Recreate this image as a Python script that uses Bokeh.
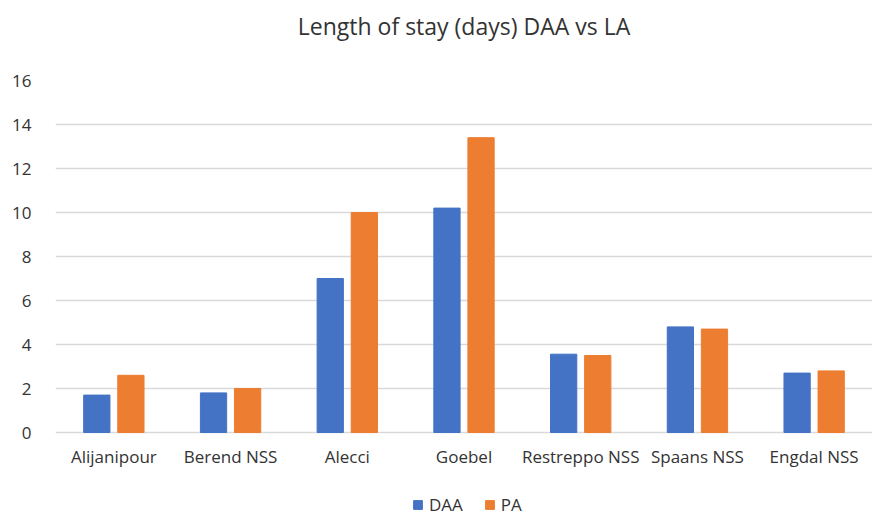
from bokeh.plotting import figure
from bokeh.models import ColumnDataSource, FactorRange, Range1d, Legend, LegendItem, Title
from bokeh.transform import dodge
from bokeh.core.properties import value
from bokeh.embed import file_html
from bokeh.resources import INLINE

categories = ["Alijanipour", "Berend NSS", "Alecci", "Goebel", "Restreppo NSS", "Spaans NSS", "Engdal NSS"]
daa = [1.7, 1.8, 7.0, 10.2, 3.56, 4.8, 2.7]
pa = [2.6, 2.0, 10.0, 13.4, 3.5, 4.7, 2.8]
y_ticks = [0, 2, 4, 6, 8, 10, 12, 14, 16]

FONT = "Open Sans"
TXT = "#333333"
source = ColumnDataSource(dict(cat=categories, daa=daa, pa=pa))

# frame spans 80..516 px; value 0 sits 84 px above the bottom (22 px per unit)
y_low = -84 / 22.0
p = figure(width=872, height=516, x_range=FactorRange(*categories), y_range=Range1d(y_low, 16),
           output_backend="svg", toolbar_location=None, x_axis_location=None,
           title="Length of stay (days) DAA vs LA",
           min_border_left=55, min_border_right=0, min_border_top=80, min_border_bottom=0)

r1 = p.vbar(x=dodge("cat", -0.146, range=p.x_range), top="daa", width=0.225, source=source,
            fill_color="#4472C4", line_color="#4472C4")
r2 = p.vbar(x=dodge("cat", 0.146, range=p.x_range), top="pa", width=0.225, source=source,
            fill_color="#ED7D31", line_color="#ED7D31")

# category labels under the zero line
p.text(x="cat", y=0, text="cat", source=source, y_offset=24, text_align="center",
       text_baseline="middle", text_font=value(FONT), text_font_size="17px", text_color=TXT)

# spacer between frame and title
spacer = Title(text=" ", text_font_size="2px", standoff=30, text_color="white")
p.add_layout(spacer, "above")

p.title.align = "center"
p.title.offset = 5
p.title.text_font = FONT
p.title.text_font_size = "23px"
p.title.text_font_style = "normal"
p.title.text_color = TXT
p.title.standoff = 10

p.yaxis.ticker = y_ticks
p.yaxis.axis_line_color = None
p.yaxis.major_tick_line_color = None
p.yaxis.minor_tick_line_color = None
p.yaxis.major_tick_out = 0
p.yaxis.major_tick_in = 0
p.yaxis.major_label_standoff = 24
p.yaxis.major_label_text_font = FONT
p.yaxis.major_label_text_font_size = "17px"
p.yaxis.major_label_text_color = TXT

p.xgrid.grid_line_color = None
p.ygrid.ticker = y_ticks
p.ygrid.grid_line_color = "#D9D9D9"
p.ygrid.grid_line_width = 1.5

p.outline_line_color = None
p.background_fill_color = "white"
p.border_fill_color = "white"

legend = Legend(items=[LegendItem(label="DAA", renderers=[r1]), LegendItem(label="PA", renderers=[r2])],
                orientation="horizontal", location=(357, 0),
                glyph_width=11, glyph_height=11, label_height=11, label_standoff=6, spacing=21,
                padding=0, margin=0,
                label_text_font=FONT, label_text_font_size="17px", label_text_color=TXT,
                border_line_color=None, background_fill_alpha=0)
p.add_layout(legend, "center")

open("out.html", "w").write(file_html(p, INLINE))
